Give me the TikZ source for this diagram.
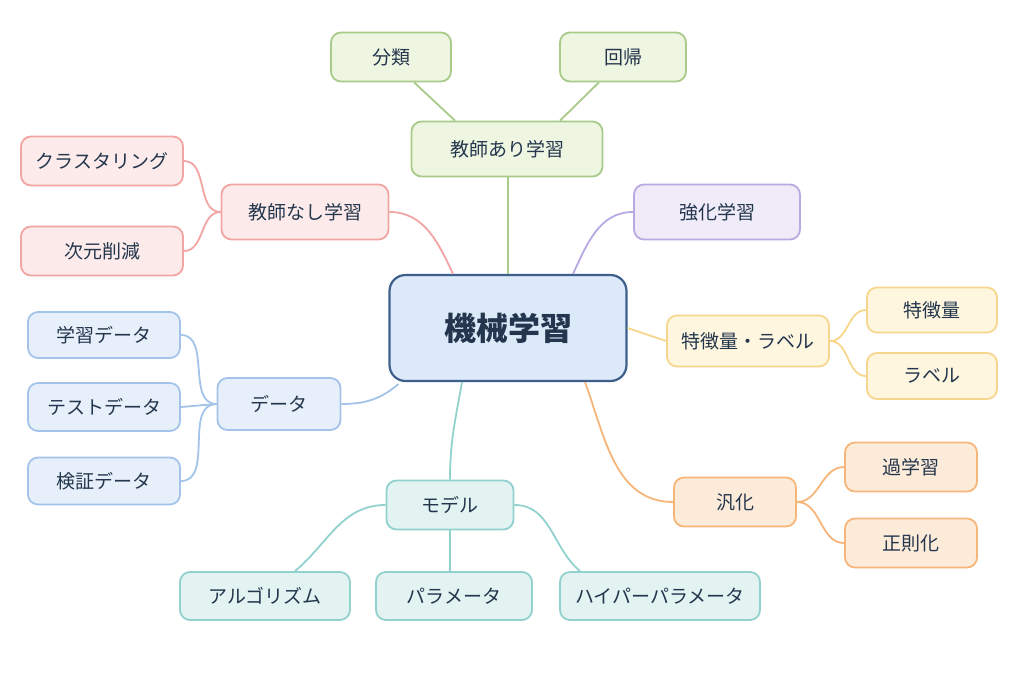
\documentclass[tikz,border=0pt]{standalone}
\usepackage{fontspec}
\setmainfont{Noto Sans CJK JP}
\definecolor{txt}{HTML}{23364D}
\definecolor{gF}{HTML}{EEF5E1}\definecolor{gD}{HTML}{A9CB8A}
\definecolor{rF}{HTML}{FCEBEA}\definecolor{rD}{HTML}{F2A5A2}
\definecolor{pF}{HTML}{EFEBF8}\definecolor{pD}{HTML}{B9A9E2}
\definecolor{yF}{HTML}{FEF6DE}\definecolor{yD}{HTML}{F6D78B}
\definecolor{oF}{HTML}{FDEBDA}\definecolor{oD}{HTML}{F6B67A}
\definecolor{bF}{HTML}{E7F0FA}\definecolor{bD}{HTML}{A3C4E8}
\definecolor{tF}{HTML}{E2F3F2}\definecolor{tD}{HTML}{92D2CE}
\definecolor{cF}{HTML}{DCE9F8}\definecolor{cD}{HTML}{3D5F8B}
\begin{document}
\begin{tikzpicture}[x=1pt,y=-1pt,
 bx/.style={draw,rounded corners=10pt,line width=1.8pt,minimum height=49pt,align=center,text=txt,font=\fontsize{19}{20}\selectfont},
 gr/.style={bx,fill=gF,draw=gD},
 rd/.style={bx,fill=rF,draw=rD},
 pu/.style={bx,fill=pF,draw=pD},
 ye/.style={bx,fill=yF,draw=yD},
 og/.style={bx,fill=oF,draw=oD},
 bl/.style={bx,fill=bF,draw=bD},
 te/.style={bx,fill=tF,draw=tD},
 cg/.style={gD,line width=1.8pt},
 cr/.style={rD,line width=1.8pt},
 cp/.style={pD,line width=1.8pt},
 cy/.style={yD,line width=1.8pt},
 co/.style={oD,line width=1.8pt},
 cb/.style={bD,line width=1.8pt},
 ct/.style={tD,line width=1.8pt}]
\useasboundingbox[fill=white] (0,0) rectangle (1024,683);
\node[bx,fill=cF,draw=cD,line width=2.2pt,rounded corners=16pt,minimum width=237pt,minimum height=106pt,font=\fontsize{32}{34}\selectfont\bfseries] (ml) at (508,328) {機械学習};
\node[gr,minimum width=191pt,minimum height=55pt] (sup) at (507,149) {教師あり学習};
\node[gr,minimum width=120pt] (cls) at (391,57) {分類};
\node[gr,minimum width=126pt] (reg) at (623,57) {回帰};
\node[rd,minimum width=167pt,minimum height=55pt] (uns) at (305,212) {教師なし学習};
\node[rd,minimum width=162pt] (clu) at (102,161) {クラスタリング};
\node[rd,minimum width=162pt] (dim) at (102,251) {次元削減};
\node[pu,minimum width=166pt,minimum height=55pt] (rl) at (717,212) {強化学習};
\node[ye,minimum width=162pt,minimum height=51pt] (fl) at (748,341) {特徴量・ラベル};
\node[ye,minimum width=130pt,minimum height=45pt] (ft) at (932,310) {特徴量};
\node[ye,minimum width=130pt,minimum height=46pt] (lb) at (932,376) {ラベル};
\node[og,minimum width=122pt] (gen) at (735,502) {汎化};
\node[og,minimum width=132pt] (ovf) at (911,467) {過学習};
\node[og,minimum width=132pt] (rgl) at (911,543) {正則化};
\node[bl,minimum width=123pt,minimum height=52pt] (dat) at (279,404) {データ};
\node[bl,minimum width=152pt,minimum height=46pt] (trn) at (104,335) {学習データ};
\node[bl,minimum width=152pt,minimum height=48pt] (tst) at (104,407) {テストデータ};
\node[bl,minimum width=152pt,minimum height=47pt] (val) at (104,481) {検証データ};
\node[te,minimum width=127pt] (mdl) at (450,505) {モデル};
\node[te,minimum width=170pt,minimum height=48pt] (alg) at (265,596) {アルゴリズム};
\node[te,minimum width=156pt,minimum height=48pt] (par) at (454,596) {パラメータ};
\node[te,minimum width=200pt,minimum height=48pt] (hyp) at (660,596) {ハイパーパラメータ};
% connectors
\draw[cg] (ml.north) -- (ml.north|-sup.south);
\draw[cg] ([xshift=84pt]cls.south west) -- ([xshift=-52pt]sup.north);
\draw[cg] ([xshift=-88pt]reg.south east) -- ([xshift=53pt]sup.north);
\draw[cr] (uns.east) to[out=0,in=115] ([xshift=-55pt]ml.north);
\draw[cr] (uns.west) to[out=180,in=0] (clu.east);
\draw[cr] (uns.west) to[out=180,in=0] (dim.east);
\draw[cp] ([xshift=65pt]ml.north) to[out=65,in=180] (rl.west);
\draw[cy] (ml.east) -- (fl.west);
\draw[cy] (fl.east) to[out=0,in=180] (ft.west);
\draw[cy] (fl.east) to[out=0,in=180] (lb.west);
\draw[co] ([xshift=77pt]ml.south) to[out=-70,in=180] (gen.west);
\draw[co] (gen.east) to[out=0,in=180] (ovf.west);
\draw[co] (gen.east) to[out=0,in=180] (rgl.west);
\draw[cb] (dat.east) to[out=0,in=-140] ([xshift=10pt,yshift=-2pt]ml.south west);
\draw[cb] (dat.west) to[out=180,in=0] (trn.east);
\draw[cb] (dat.west) -- (tst.east);
\draw[cb] (dat.west) to[out=180,in=0] (val.east);
\draw[ct] ([xshift=-46pt]ml.south) to[out=-100,in=90] (mdl.north);
\draw[ct] (mdl.west) to[out=180,in=40] ([xshift=30pt]alg.north);
\draw[ct] (mdl.south) -- (mdl.south|-par.north);
\draw[ct] (mdl.east) to[out=0,in=140] ([xshift=-80pt]hyp.north);
\end{tikzpicture}
\end{document}
